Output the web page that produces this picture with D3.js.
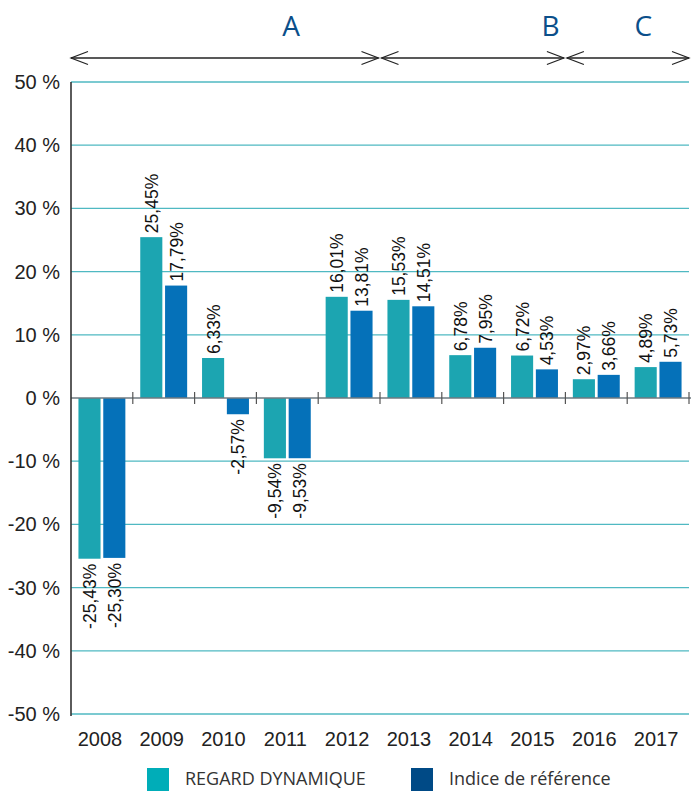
<!DOCTYPE html>
<html><head><meta charset="utf-8">
<script src="https://cdn.jsdelivr.net/npm/d3@7"></script>
<style>body{margin:0;background:#fff}svg{display:block}</style>
</head><body>
<svg id="c" width="691" height="791"></svg>
<script>
const years = ["2008","2009","2010","2011","2012","2013","2014","2015","2016","2017"];
const regard = [-25.43, 25.45, 6.33, -9.54, 16.01, 15.53, 6.78, 6.72, 2.97, 4.89];
const indice = [-25.30, 17.79, -2.57, -9.53, 13.81, 14.51, 7.95, 4.53, 3.66, 5.73];
const yTicks = [50, 40, 30, 20, 10, 0, -10, -20, -30, -40, -50];
const seriesNames = ["REGARD DYNAMIQUE", "Indice de référence"];
const periods = [{label:"A", from:"2008", to:"2012"}, {label:"B", from:"2013", to:"2015"}, {label:"C", from:"2016", to:"2017"}];

const barColors = ["#1ca5b1", "#0571b9"];
const legendColors = ["#00adb8", "#004a86"];

const svg = d3.select("#c");
const pLeft = 71, pRight = 689, pTop = 82, pBottom = 714;
const x = d3.scaleBand().domain(years).range([pLeft, pRight]).paddingInner(0).paddingOuter(0);
const xs = d3.scaleBand().domain([0,1]).range([0, x.bandwidth()]).paddingInner(0.11).paddingOuter(0.3);
const y = d3.scaleLinear().domain([-50, 50]).range([pBottom, pTop]);

// gridlines
svg.append("g").selectAll("line").data(yTicks.filter(t => t !== 0)).join("line")
  .attr("x1", pLeft).attr("x2", pRight).attr("y1", d => y(d)).attr("y2", d => y(d))
  .attr("stroke", "#4fb9c2").attr("stroke-width", 1.3);

// y labels
svg.append("g").selectAll("text").data(yTicks).join("text")
  .attr("x", 60).attr("y", d => y(d) + 7).attr("text-anchor", "end")
  .attr("font-family", "Liberation Sans, Arial, sans-serif").attr("font-size", 20).attr("fill", "#222")
  .text(d => d + " %");

// bars
const groups = svg.append("g").selectAll("g").data(years).join("g")
  .attr("transform", d => `translate(${x(d)},0)`);
[regard, indice].forEach((vals, si) => {
  groups.append("rect")
    .attr("x", xs(si)).attr("width", xs.bandwidth())
    .attr("y", (d, i) => y(Math.max(0, vals[i])))
    .attr("height", (d, i) => Math.abs(y(vals[i]) - y(0)))
    .attr("fill", barColors[si]);
  groups.append("text")
    .attr("transform", (d, i) => {
      const v = vals[i];
      const cx = xs(si) + xs.bandwidth() / 2 + 6.5;
      const yy = v >= 0 ? y(v) - 4 : y(v) + 5;
      return `translate(${cx},${yy}) rotate(-90)`;
    })
    .attr("text-anchor", (d, i) => vals[i] >= 0 ? "start" : "end")
    .attr("font-family", "Liberation Sans, Arial, sans-serif").attr("font-size", 17.5).attr("fill", "#111")
    .text((d, i) => vals[i].toFixed(2).replace(".", ",") + "%");
});

// zero line with ticks
svg.append("line").attr("x1", pLeft).attr("x2", pRight + 2).attr("y1", y(0)).attr("y2", y(0))
  .attr("stroke", "#6f7a80").attr("stroke-width", 1.6);
svg.append("g").selectAll("line").data(years.slice(1).concat(["end"])).join("line")
  .attr("x1", d => d === "end" ? pRight : x(d)).attr("x2", d => d === "end" ? pRight : x(d))
  .attr("y1", y(0) - 6).attr("y2", y(0) + 6)
  .attr("stroke", "#555").attr("stroke-width", 1.2);

// y axis line
svg.append("line").attr("x1", pLeft).attr("x2", pLeft).attr("y1", pTop).attr("y2", pBottom + 2)
  .attr("stroke", "#333").attr("stroke-width", 1.6);

// x labels
svg.append("g").selectAll("text").data(years).join("text")
  .attr("x", d => x(d) + x.bandwidth() / 2 - 2).attr("y", 746).attr("text-anchor", "middle")
  .attr("font-family", "Liberation Sans, Arial, sans-serif").attr("font-size", 20).attr("fill", "#222")
  .text(d => d);

// period arrows
const arrowY = 58;
const pg = svg.append("g");
periods.forEach((p, i) => {
  const x1 = x(p.from) + (i === 0 ? 0 : 1.5);
  const x2 = x(p.to) + x.bandwidth() - (i === periods.length - 1 ? 0 : 1.5);
  pg.append("line").attr("x1", x1).attr("x2", x2).attr("y1", arrowY).attr("y2", arrowY)
    .attr("stroke", "#222").attr("stroke-width", 1.3);
  pg.append("path").attr("d", `M${x1 + 17},${arrowY - 6.5} L${x1},${arrowY} L${x1 + 17},${arrowY + 6.5}`)
    .attr("fill", "none").attr("stroke", "#222").attr("stroke-width", 1.2);
  pg.append("path").attr("d", `M${x2 - 17},${arrowY - 6.5} L${x2},${arrowY} L${x2 - 17},${arrowY + 6.5}`)
    .attr("fill", "none").attr("stroke", "#222").attr("stroke-width", 1.2);
});
const letterX = {"A": x("2012") - 27, "B": x("2015") + 47, "C": x("2017") + 16};
pg.selectAll("text").data(periods).join("text")
  .attr("x", d => letterX[d.label]).attr("y", 36).attr("text-anchor", "middle")
  .attr("font-family", "Open Sans, sans-serif").attr("font-size", 28).attr("fill", "#0b4f8a")
  .text(d => d.label);

// legend
const lg = svg.append("g");
const legX = [147, 411];
seriesNames.forEach((n, i) => {
  lg.append("rect").attr("x", legX[i]).attr("y", 768).attr("width", 22).attr("height", 23).attr("fill", legendColors[i]);
  lg.append("text").attr("x", legX[i] + 38).attr("y", 785)
    .attr("font-family", "Open Sans, sans-serif").attr("font-size", 18).attr("fill", "#333")
    .text(n);
});
</script>
</body></html>
